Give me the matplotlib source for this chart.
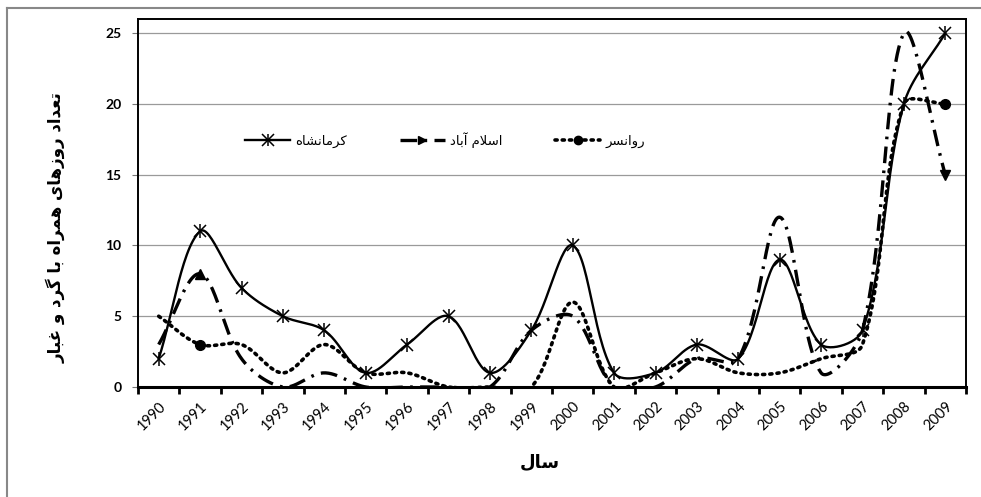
import matplotlib
matplotlib.use("Agg")
import matplotlib.pyplot as plt
from matplotlib.lines import Line2D
import numpy as np

years = list(range(1990, 2010))
kermanshah = [2, 11, 7, 5, 4, 1, 3, 5, 1, 4, 10, 1, 1, 3, 2, 9, 3, 4, 20, 25]
islamabad = [3, 8, 2, 0, 1, 0, 0, 0, 0, 4, 5, 0, 0, 2, 2, 12, 1, 4, 25, 15]
ravansar = [5, 3, 3, 1, 3, 1, 1, 0, 0, 0, 6, 0, 1, 2, 1, 1, 2, 3, 20, 20]

ylabel_txt = "تعداد روزهای همراه با گرد و غبار"
xlabel_txt = "سال"
names = ["کرمانشاه", "اسلام آباد", "روانسر"]

# matplotlib does no arabic shaping, so pick presentation forms by hand
# letter: (isolated, final, initial, medial); None = does not join forward
FORMS = {
    "ا": ("\uFE8D", "\uFE8E", None, None),
    "آ": ("\uFE81", "\uFE82", None, None),
    "ب": ("\uFE8F", "\uFE90", "\uFE91", "\uFE92"),
    "ت": ("\uFE95", "\uFE96", "\uFE97", "\uFE98"),
    "د": ("\uFEA9", "\uFEAA", None, None),
    "ر": ("\uFEAD", "\uFEAE", None, None),
    "ز": ("\uFEAF", "\uFEB0", None, None),
    "س": ("\uFEB1", "\uFEB2", "\uFEB3", "\uFEB4"),
    "ش": ("\uFEB5", "\uFEB6", "\uFEB7", "\uFEB8"),
    "ع": ("\uFEC9", "\uFECA", "\uFECB", "\uFECC"),
    "غ": ("\uFECD", "\uFECE", "\uFECF", "\uFED0"),
    "ل": ("\uFEDD", "\uFEDE", "\uFEDF", "\uFEE0"),
    "م": ("\uFEE1", "\uFEE2", "\uFEE3", "\uFEE4"),
    "ن": ("\uFEE5", "\uFEE6", "\uFEE7", "\uFEE8"),
    "ه": ("\uFEE9", "\uFEEA", "\uFEEB", "\uFEEC"),
    "و": ("\uFEED", "\uFEEE", None, None),
    "ک": ("\uFB8E", "\uFB8F", "\uFB90", "\uFB91"),
    "گ": ("\uFB92", "\uFB93", "\uFB94", "\uFB95"),
    "ی": ("\uFBFC", "\uFBFD", "\uFBFE", "\uFBFF"),
}
LAMALEF = {"ا": ("\uFEFB", "\uFEFC"), "آ": ("\uFEF5", "\uFEF6")}


def shape(s):
    out = []
    i = 0
    while i < len(s):
        c = s[i]
        if c not in FORMS:
            out.append(c)
            i += 1
            continue
        prev = s[i - 1] if i > 0 else " "
        joins_prev = prev in FORMS and FORMS[prev][2] is not None
        if c == "ل" and i + 1 < len(s) and s[i + 1] in LAMALEF:
            out.append(LAMALEF[s[i + 1]][1 if joins_prev else 0])
            i += 2
            continue
        nxt = s[i + 1] if i + 1 < len(s) else " "
        joins_next = nxt in FORMS and FORMS[c][2] is not None
        f = FORMS[c]
        if joins_prev and joins_next:
            out.append(f[3])
        elif joins_prev:
            out.append(f[1])
        elif joins_next:
            out.append(f[2])
        else:
            out.append(f[0])
        i += 1
    return "".join(out[::-1])


# pixels per category / per unit, used so smoothing behaves like excel's
SX, SY = 41.4, 14.16


def smooth(y, n=30):
    # bezier smoothing with control arms scaled by chord length (screen space)
    y = np.asarray(y, dtype=float)
    P = np.column_stack([np.arange(len(y)) * SX, y * SY])
    P = np.vstack([P[0], P, P[-1]])
    t = np.linspace(0, 1, n)[:, None]
    pts = []
    for i in range(len(y) - 1):
        p0, p1, p2, p3 = P[i], P[i + 1], P[i + 2], P[i + 3]
        d01 = np.hypot(*(p1 - p0))
        d12 = np.hypot(*(p2 - p1))
        d23 = np.hypot(*(p3 - p2))
        c1 = p1 + (p2 - p0) * d12 / (d01 + d12) / 3
        c2 = p2 - (p3 - p1) * d12 / (d12 + d23) / 3
        b = (1 - t) ** 3 * p1 + 3 * (1 - t) ** 2 * t * c1 + 3 * (1 - t) * t ** 2 * c2 + t ** 3 * p2
        pts.append(b)
    pts = np.vstack(pts)
    return pts[:, 0] / SX, pts[:, 1] / SY


x = np.arange(len(years))
k = np.array(kermanshah, dtype=float)
isl = np.array(islamabad, dtype=float)
rav = np.array(ravansar, dtype=float)

fig = plt.figure(figsize=(9.81, 4.97), dpi=100)
ax = fig.add_axes([138 / 981, 1 - 387 / 497, 828 / 981, 368 / 497])

ax.set_ylim(0, 26)
ax.set_xlim(-0.5, len(years) - 0.5)
ax.yaxis.grid(True, color="#9a9a9a", linewidth=0.9)
ax.set_axisbelow(True)

sx, sy = smooth(rav)
ax.plot(sx, sy, color="black", lw=2.6, linestyle=(0, (0.6, 1.4)), dash_capstyle="round")
ax.plot(x[[1, -1]], rav[[1, -1]], "o", color="black", ms=7)

sx, sy = smooth(isl)
ax.plot(sx, sy, color="black", lw=2.4, linestyle=(0, (5, 2.2, 0.8, 2.2)))
ax.plot(x[[1]], isl[[1]], "^", color="black", ms=7)
ax.plot(x[[-1]], isl[[-1]], "v", color="black", ms=7)

sx, sy = smooth(k)
ax.plot(sx, sy, color="black", lw=1.7)
ax.plot(x, k, "x", color="black", ms=9, mew=1.1)
ax.plot(x, k, "|", color="black", ms=10, mew=1.1)

for side in ["left", "right", "top"]:
    ax.spines[side].set_linewidth(1.4)
ax.spines["bottom"].set_linewidth(2.2)

ax.set_yticks([0, 5, 10, 15, 20, 25])
ax.tick_params(axis="y", length=4, width=0.8, color="#777777", pad=8)
for lab in ax.get_yticklabels():
    lab.set_fontfamily("Lato")
    lab.set_fontweight("bold")
    lab.set_fontsize(10)

ax.set_xticks(np.arange(-0.5, len(years), 1.0))
ax.set_xticklabels([])
ax.tick_params(axis="x", which="major", length=5, width=2, direction="out")
ax.set_xticks(x, minor=True)
ax.set_xticklabels([str(v) for v in years], minor=True, rotation=45, ha="right",
                   rotation_mode="anchor", fontfamily="Lato", fontsize=10.5)
ax.tick_params(axis="x", which="minor", length=0, pad=9)

h_k = Line2D([], [], color="black", lw=1.7, marker="x", ms=8, mew=1.1)
h_k2 = Line2D([], [], color="black", lw=0, marker="|", ms=9, mew=1.1)
h_isl = Line2D([], [], color="black", lw=2.4, linestyle=(0, (5, 2.2, 0.8, 2.2)),
               marker=">", ms=6)
h_rav = Line2D([], [], color="black", lw=2.6, linestyle=(0, (0.6, 1.4)),
               dash_capstyle="round", marker="o", ms=6)
leg = ax.legend([(h_k, h_k2), h_isl, h_rav], [shape(n) for n in names],
                loc="center", bbox_to_anchor=(0.371, 0.672), ncol=3, frameon=False,
                handlelength=3.4, columnspacing=4.0, handletextpad=0.4,
                prop={"family": "DejaVu Sans", "size": 9.5})

fig.text(56 / 981, 1 - 228 / 497, shape(ylabel_txt), rotation=90, ha="center",
         va="center", fontsize=12, fontweight="bold", family="DejaVu Sans")
fig.text(540 / 981, 1 - 462 / 497, shape(xlabel_txt), ha="center", va="center",
         fontsize=13, fontweight="bold", family="DejaVu Sans")

# outer chart frame (left and top edges visible in the source)
fig.add_artist(Line2D([7 / 981, 7 / 981], [0, 1 - 8 / 497], color="#888888", lw=1.5))
fig.add_artist(Line2D([7 / 981, 1], [1 - 8 / 497, 1 - 8 / 497], color="#888888", lw=1.5))

fig.savefig("out.png", dpi=100)
